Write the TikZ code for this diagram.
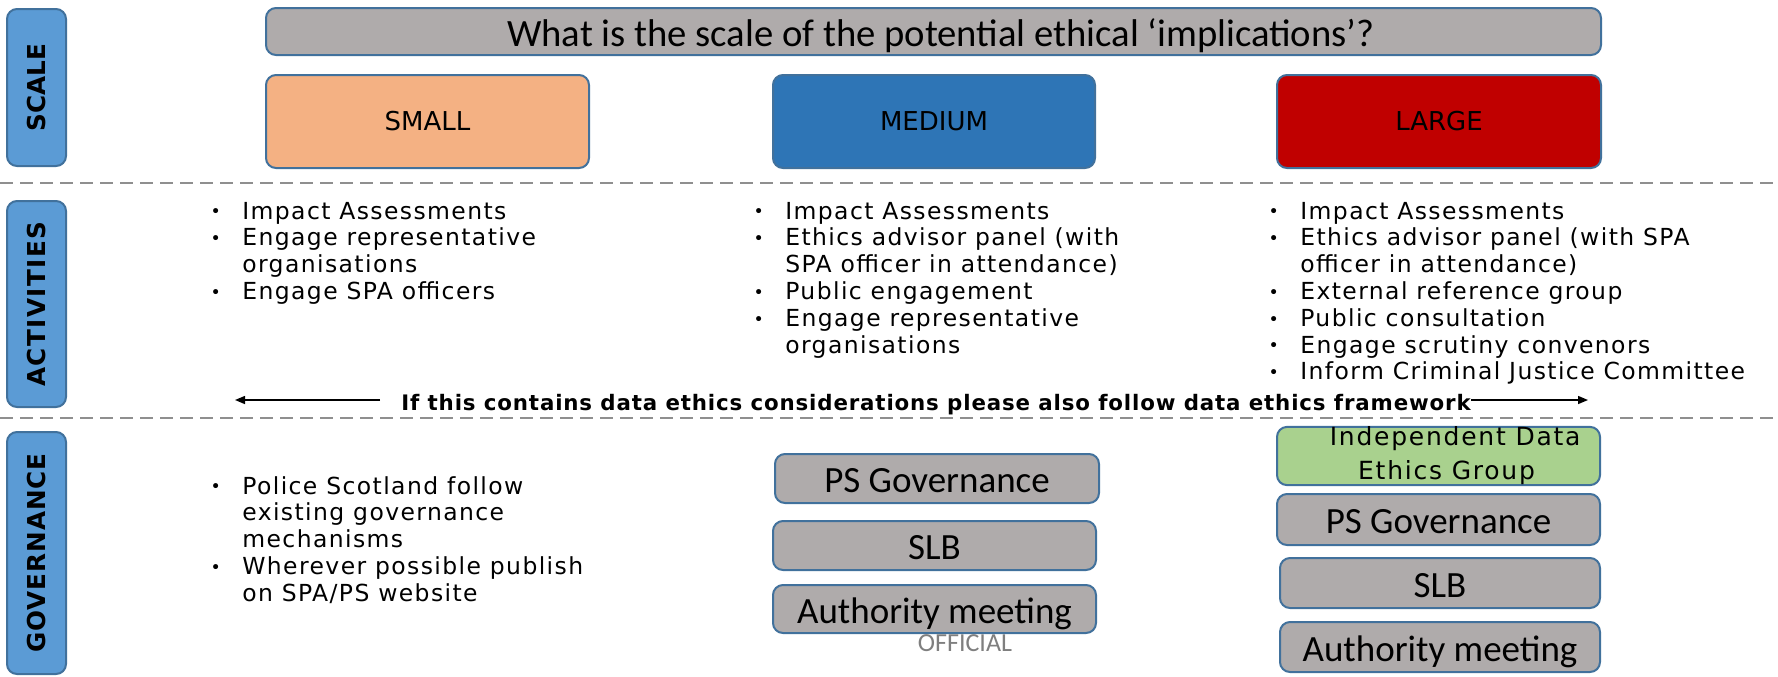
\documentclass[tikz,border=0pt]{standalone}
\usepackage{fontspec}
\setmainfont{DejaVu Sans}
\newfontfamily\calfont{Carlito}
\newfontfamily\vfont{DejaVu Sans}
\usetikzlibrary{arrows.meta}

\definecolor{bordblue}{HTML}{41719C}
\definecolor{lblblue}{HTML}{5B9BD5}
\definecolor{boxgray}{HTML}{AFABAB}
\definecolor{smallfill}{HTML}{F4B183}
\definecolor{medfill}{HTML}{2E75B6}
\definecolor{largefill}{HTML}{C00000}
\definecolor{greenfill}{HTML}{A9D18E}
\definecolor{dashgray}{HTML}{8F8F8F}
\definecolor{offgray}{HTML}{7F7F7F}

% bullet set in a fixed-width slot, and the matching indent for wrapped lines
\newcommand\blt{\makebox[39.8pt][c]{\fontsize{13pt}{13pt}\selectfont\raisebox{0.8pt}{•}}}
\newcommand\cont{\hspace*{39.8pt}}

\begin{document}
\begin{tikzpicture}[x=0.75pt,y=-0.75pt,
  rbox/.style={draw=bordblue, line width=1.5pt, rounded corners=7.5pt, inner sep=0pt},
  sidelabel/.style={rbox, fill=lblblue, rotate=90, minimum height=44.25pt,
    font=\vfont\bfseries\fontsize{18.5pt}{18.5pt}\selectfont},
  scalebox/.style={rbox, minimum width=242.25pt, minimum height=69.75pt,
    font=\vfont\fontsize{19.5pt}{19.5pt}\selectfont},
  graybox/.style={rbox, fill=boxgray, minimum width=242.25pt,
    text height=21.7pt, text depth=0pt,
    font=\calfont\fontsize{27.75pt}{27.75pt}\selectfont},
  bullets/.style={inner sep=0pt, anchor=base west,
    font=\vfont\addfontfeature{LetterSpace=6}\fontsize{17.6pt}{20.1pt}\selectfont},
  arr/.style={line width=1.1pt, -{Triangle[length=7.5pt,width=6pt]}},
  divider/.style={dashgray, line width=1.5pt, dash pattern=on 9.75pt off 5.25pt}
]
\fill[white] (0,0) rectangle (1778,676);
\useasboundingbox (0,0) rectangle (1778,676);

% row dividers
\draw[divider] (0,183) -- (1778,183);
\draw[divider] (0,418) -- (1778,418);

% row labels
\node[sidelabel, minimum width=117.75pt] (lblscale) at (36.5,87.5) {SCALE};
\node[sidelabel, minimum width=154.5pt] (lblact) at (36.5,304)
  {\addfontfeature{LetterSpace=6}ACTIVITIES};
\node[sidelabel, minimum width=181.5pt] (lblgov) at (36.5,553)
  {\addfontfeature{LetterSpace=4}GOVERNANCE};

% question and scale boxes
\node[rbox, fill=boxgray, minimum width=1001.25pt, minimum height=35.25pt,
  text height=22.5pt, text depth=0pt,
  font=\calfont\fontsize{29pt}{29pt}\selectfont] (question) at (933.5,31.5)
  {\hspace*{11pt}What is the scale of the potential ethical ‘implications’?};
\node[scalebox, fill=smallfill] (small) at (427.5,121.5) {SMALL};
\node[scalebox, fill=medfill, minimum width=241.5pt] (medium) at (934,121.5) {MEDIUM};
\node[scalebox, fill=largefill, minimum width=243pt] (large) at (1439,121.5) {LARGE};

% activities
\node[bullets] (actsmall) at (189,219) {\begin{tabular}[t]{@{}l@{}}
\blt Impact Assessments\\
\blt Engage representative\\
\cont organisations\\
\blt Engage SPA officers
\end{tabular}};
\node[bullets] (actmedium) at (732,219) {\begin{tabular}[t]{@{}l@{}}
\blt Impact Assessments\\
\blt Ethics advisor panel (with\\
\cont SPA officer in attendance)\\
\blt Public engagement\\
\blt Engage representative\\
\cont organisations
\end{tabular}};
\node[bullets] (actlarge) at (1247,219) {\begin{tabular}[t]{@{}l@{}}
\blt Impact Assessments\\
\blt Ethics advisor panel (with SPA\\
\cont officer in attendance)\\
\blt External reference group\\
\blt Public consultation\\
\blt Engage scrutiny convenors\\
\blt Inform Criminal Justice Committee
\end{tabular}};

% data ethics note with its arrows
\node[inner sep=0pt, anchor=base,
  font=\vfont\bfseries\addfontfeature{LetterSpace=4}\fontsize{16pt}{16pt}\selectfont]
  (dataethics) at (936,410)
  {If this contains data ethics considerations please also follow data ethics framework};
\coordinate (lefttip) at (235,400);
\coordinate (righttip) at (1588,400);
\draw[arr] ([xshift=-15.75pt]dataethics.west |- lefttip) -- (lefttip);
\draw[arr] (dataethics.east |- righttip) -- (righttip);

% governance
\node[bullets] (govsmall) at (189,494) {\begin{tabular}[t]{@{}l@{}}
\blt Police Scotland follow\\
\cont existing governance\\
\cont mechanisms\\
\blt Wherever possible publish\\
\cont on SPA/PS website
\end{tabular}};

\node[graybox, minimum width=243pt, minimum height=36.75pt] (mpsgov) at (937,478.5) {PS Governance};
\node[graybox, minimum height=36.75pt] (mslb) at (934.5,545.5) {SLB};
\node[graybox, minimum height=36pt] (mauth) at (934.5,609) {Authority meeting};

\node[rbox, fill=greenfill, minimum width=242.25pt, minimum height=40.5pt, align=center,
  font=\vfont\addfontfeature{LetterSpace=7}\fontsize{18.75pt}{25.5pt}\selectfont]
  (ldeg) at (1438.5,456) {\hspace*{25pt}Independent Data\\\hspace*{12pt}Ethics Group};
\node[graybox, minimum height=38.25pt] (lpsgov) at (1438.5,519.5) {PS Governance};
\node[graybox, minimum width=240pt, minimum height=37.5pt] (lslb) at (1440,583) {SLB};
\node[graybox, minimum width=240pt, minimum height=37.5pt] (lauth) at (1440,647) {Authority meeting};

\node[inner sep=0pt, anchor=base, text=offgray,
  font=\calfont\fontsize{19.5pt}{19.5pt}\selectfont] (official) at (965,651) {OFFICIAL};
\end{tikzpicture}
\end{document}
